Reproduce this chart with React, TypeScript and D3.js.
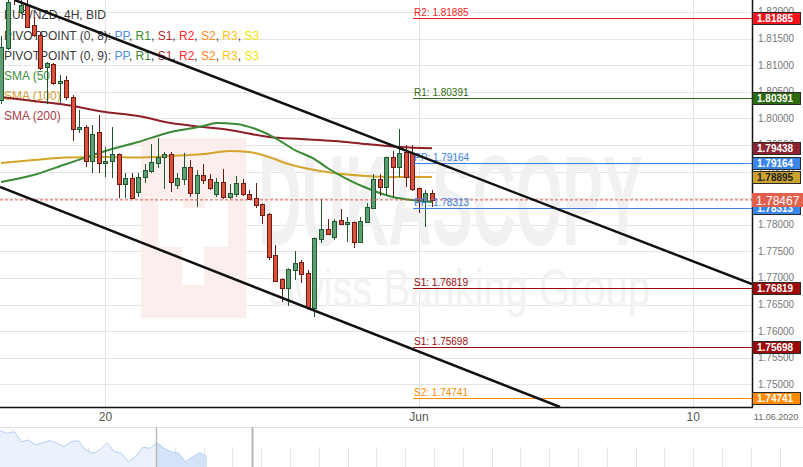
import React from 'react';
import * as d3 from 'd3';

// ---- Candle data (EUR/NZD 4H, BID) ----
const openPrices = [1.80344,1.81322,1.82412,1.81998,1.82130,1.81754,1.81566,1.80965,1.81021,1.80664,1.80720,1.80401,1.79799,1.79836,1.79198,1.79743,1.79160,1.79198,1.79329,1.78765,1.78878,1.78615,1.78897,1.79010,1.79160,1.79273,1.79329,1.78746,1.78859,1.79085,1.78596,1.78935,1.78859,1.78577,1.78803,1.78521,1.78577,1.78784,1.78577,1.78502,1.78389,1.78201,1.77431,1.76980,1.76811,1.77149,1.77299,1.77092,1.76434,1.77731,1.77919,1.77769,1.78088,1.78013,1.78051,1.77675,1.78051,1.78314,1.78859,1.78709,1.79273,1.79085,1.79367,1.79348,1.78690,1.78445,1.78596];
const highPrices = [1.81547,1.82318,1.82450,1.82224,1.82224,1.81904,1.81622,1.81059,1.81040,1.80814,1.80795,1.80438,1.80156,1.79874,1.79874,1.80062,1.79461,1.79836,1.79340,1.78972,1.78972,1.78972,1.79141,1.79517,1.79630,1.79367,1.79367,1.78972,1.79348,1.79216,1.79028,1.79141,1.78953,1.78878,1.79047,1.78765,1.78916,1.78859,1.78652,1.78784,1.78400,1.78220,1.77619,1.76990,1.77180,1.77506,1.77337,1.77149,1.77760,1.78483,1.78107,1.78107,1.78295,1.78145,1.78060,1.78145,1.78408,1.78953,1.78953,1.79280,1.79386,1.79799,1.79498,1.79498,1.78700,1.78652,1.78652];
const lowPrices = [1.80269,1.81284,1.82130,1.81961,1.81698,1.81529,1.80908,1.80269,1.80626,1.80288,1.80344,1.79574,1.79724,1.79085,1.78972,1.78972,1.78897,1.78878,1.78502,1.78502,1.78490,1.78521,1.78784,1.78972,1.79066,1.78671,1.78615,1.78671,1.78746,1.78521,1.78333,1.78765,1.78652,1.78521,1.78483,1.78483,1.78521,1.78540,1.78464,1.78314,1.78013,1.77337,1.76924,1.76547,1.76472,1.76961,1.76905,1.76397,1.76265,1.77656,1.77807,1.77712,1.78005,1.77675,1.77562,1.77656,1.78045,1.78305,1.78540,1.78540,1.78521,1.78897,1.78709,1.78634,1.78220,1.77957,1.78333];
const closePrices = [1.81341,1.82186,1.82280,1.82130,1.81716,1.81566,1.80946,1.81040,1.80664,1.80701,1.80401,1.79799,1.79836,1.79198,1.79705,1.79160,1.79198,1.79329,1.78765,1.78878,1.78502,1.78897,1.79028,1.79179,1.79273,1.79329,1.78803,1.78878,1.79085,1.78596,1.78935,1.78840,1.78690,1.78803,1.78521,1.78596,1.78784,1.78577,1.78483,1.78370,1.78182,1.77393,1.76942,1.76811,1.77168,1.77280,1.77074,1.76453,1.77750,1.77919,1.77825,1.78070,1.78013,1.78051,1.77675,1.78070,1.78333,1.78859,1.78709,1.79273,1.79085,1.79348,1.78897,1.78671,1.78464,1.78596,1.78467];

// ---- Moving averages (sampled at candle indices) ----
const sma50Idx = [0,5,10,16,21,26,31,33,36,39,42,45,48,50,53,56,60,63,66];
const sma50Val = [1.78803,1.78935,1.79141,1.79386,1.79555,1.79743,1.79855,1.79912,1.79893,1.79799,1.79630,1.79404,1.79235,1.79066,1.78859,1.78690,1.78521,1.78464,1.78427];
const sma100Idx = [0,5,10,16,21,26,31,35,38,41,44,48,51,56,61,66];
const sma100Val = [1.79160,1.79216,1.79264,1.79273,1.79264,1.79292,1.79329,1.79386,1.79367,1.79273,1.79141,1.79028,1.78972,1.78916,1.78897,1.78895];
const sma200Idx = [0,5,10,16,21,26,31,35,41,46,51,56,61,66];
const sma200Val = [1.80401,1.80325,1.80250,1.80119,1.80044,1.79912,1.79837,1.79780,1.79649,1.79611,1.79574,1.79517,1.79461,1.79438];

// ---- Channel trend lines ----
const upperTrendIdx = [2.1, 115];
const upperTrendPrice = [1.82224, 1.76886];
const lowerTrendIdx = [-0.15, 85.6];
const lowerTrendPrice = [1.78709, 1.74574];

// ---- Pivot levels ----
const pivotValues = [1.81885, 1.80391, 1.79164, 1.78313, 1.76819, 1.75698, 1.74741];
const pivotNames = ['R2', 'R1', 'PP', 'PP', 'S1', 'S1', 'S2'];
const pivotStartIdx = 63.1;

// ---- Axis ----
const priceTicks = d3.range(1.75, 1.8201, 0.005);
const timeTickIdx = [16, 64, 106];
const timeTickLabels = ['20', 'Jun', '10'];
const endDateLabel = '11.06.2020';
const lastPrice = 1.78467;

// ---- Navigator series ----
const navValues = [1.8223,1.8028,1.8148,1.7398,1.7525,1.7150,1.7323,1.7473,1.7278,1.7023,1.7398,1.7473,1.6775,1.6528,1.6775,1.7323,1.6648,1.6528,1.5898,1.6273,1.6978,1.6903,1.7323,1.6903,1.6648,1.6528,1.5898,1.6273,1.6573,1.6273];

const FONT = '"Liberation Sans", Arial, Helvetica, sans-serif';

const pivotColor: Record<string, string> = {
  PP: '#3b82e6', R1: '#2e6b12', S1: '#990a0a', R2: '#f21b1b', S2: '#ff8a00',
};

export default function App() {
  const PW = 752, PH = 407;
  const x = d3.scaleLinear().domain([-0.15, 115]).range([0, PW]);
  const y = d3.scaleLinear().domain([1.82224, 1.74574]).range([0, PH]);

  const smaLine = (idx: number[], val: number[]) =>
    d3.line<number>().x((_, k) => x(idx[k])).y((v) => y(v)).curve(d3.curveMonotoneX)(val) || '';

  const navX = d3.scaleLinear().domain([0, navValues.length - 1]).range([0, 207]);
  const navY = d3.scaleLinear().domain([1.85, 1.55]).range([427, 467]);
  const navArea = d3.area<number>().x((_, k) => navX(k)).y0(467).y1((v) => navY(v))(navValues) || '';
  const navLine = d3.line<number>().x((_, k) => navX(k)).y((v) => navY(v))(navValues) || '';
  const navGrid = d3.range(30.7, 803, 28.8);

  const boxes = [
    { v: pivotValues[0], fill: '#f5141e', text: '#fff' },
    { v: pivotValues[1], fill: '#2d6a0f', text: '#fff' },
    { v: sma200Val[sma200Val.length - 1], fill: '#8c2330', text: '#fff' },
    { v: pivotValues[2], fill: '#3b86ea', text: '#fff' },
    { v: sma100Val[sma100Val.length - 1], fill: '#c9a230', text: '#222' },
    { v: pivotValues[3], fill: '#3b86ea', text: '#fff' },
    { v: pivotValues[4], fill: '#9b0a0a', text: '#fff' },
    { v: pivotValues[5], fill: '#9b0a0a', text: '#fff' },
    { v: pivotValues[6], fill: '#ff8a00', text: '#fff' },
  ];

  const legendItems = ['PP', 'R1', 'S1', 'R2', 'S2', 'R3', 'S3'];
  const legendColors: Record<string, string> = {
    PP: '#4a8fe6', R1: '#3d8a2e', S1: '#b52a2e', R2: '#ff2a2a', S2: '#ff8a1e', R3: '#ffc21a', S3: '#f2e600',
  };

  return (
    <svg width={803} height={467} style={{ position: 'absolute', left: 0, top: 0, background: '#fff' }}
      fontFamily={FONT}>
      <defs>
        <clipPath id="plot"><rect x={0} y={0} width={PW} height={PH} /></clipPath>
        <clipPath id="navsel"><rect x={156} y={427} width={96} height={40} /></clipPath>
      </defs>

      {/* grid */}
      {priceTicks.map((t) => (
        <line key={'g' + t} x1={0} x2={PW} y1={Math.round(y(t)) + 0.5} y2={Math.round(y(t)) + 0.5} stroke="#e4e4e4" />
      ))}
      {timeTickIdx.map((t) => (
        <line key={'v' + t} x1={Math.round(x(t)) + 0.5} x2={Math.round(x(t)) + 0.5} y1={0} y2={PH} stroke="#e4e4e4" />
      ))}

      {/* watermark */}
      <g>
        <rect x={141} y={138} width={105} height={180} fill="#fdeeee" />
        <rect x={158} y={198} width={70} height={49} fill="#fff" />
        <rect x={183} y={198} width={22} height={10} fill="#fdeeee" />
        <rect x={182} y={247} width={22} height={38} fill="#fff" />
        <text x={258} y={245} fontSize={128} fontWeight="bold" fill="#f1f1f1" textLength={385} lengthAdjust="spacingAndGlyphs">DUKASCOPY</text>
        <text x={268} y={306} fontSize={52} fill="#f2f2f2" textLength={382} lengthAdjust="spacingAndGlyphs">Swiss Banking Group</text>
      </g>

      {/* legend */}
      <g fontSize={12} fill="#3a3a3a">
        <text x={4} y={19}>EUR/NZD, 4H, BID</text>
        {['(0, 8)', '(0, 9)'].map((p, r) => (
          <text key={p} x={4} y={40 + r * 19.5}>
            {'PIVOTPOINT ' + p + ': '}
            {legendItems.map((it, k) => (
              <tspan key={it} fill={legendColors[it]}>{it}<tspan fill="#3a3a3a">{k < legendItems.length - 1 ? ', ' : ''}</tspan></tspan>
            ))}
          </text>
        ))}
        <text x={4} y={80} fill="#3f8f3f">SMA (50)</text>
        <text x={4} y={100} fill="#d0a030">SMA (100)</text>
        <text x={4} y={120} fill="#a8404c">SMA (200)</text>
      </g>

      <g clipPath="url(#plot)">
        {/* SMAs */}
        <path d={smaLine(sma200Idx, sma200Val)} fill="none" stroke="#8e1f27" strokeWidth={2} />
        <path d={smaLine(sma100Idx, sma100Val)} fill="none" stroke="#d4a52a" strokeWidth={2} />
        <path d={smaLine(sma50Idx, sma50Val)} fill="none" stroke="#3a8a35" strokeWidth={2} />

        {/* candles */}
        {openPrices.map((o, i) => {
          const c = closePrices[i];
          const up = c >= o;
          const cx = Math.round(x(i));
          const top = Math.round(y(Math.max(o, c)));
          const bot = Math.round(y(Math.min(o, c)));
          const wick = up ? '#1f5a2e' : '#6b1b12';
          return (
            <g key={i}>
              <line x1={cx + 0.5} x2={cx + 0.5} y1={y(highPrices[i])} y2={y(lowPrices[i])} stroke={wick} strokeWidth={1} />
              <rect x={cx - 2 + 0.5} y={top + 0.5} width={4} height={Math.max(1, bot - top)}
                fill={up ? '#5e9e74' : '#d9503c'} stroke={wick} strokeWidth={1} />
            </g>
          );
        })}

        {/* last price dashed */}
        <line x1={0} x2={PW} y1={y(lastPrice)} y2={y(lastPrice)} stroke="#e4533f" strokeDasharray="3,2" />

        {/* pivot lines */}
        {pivotValues.map((v, k) => (
          <g key={'p' + k}>
            <line x1={x(pivotStartIdx)} x2={PW} y1={Math.round(y(v)) + 0.5} y2={Math.round(y(v)) + 0.5}
              stroke={pivotColor[pivotNames[k]]} strokeWidth={1} />
            <text x={x(pivotStartIdx) + 1} y={Math.round(y(v)) - 2} fontSize={10} fill={pivotColor[pivotNames[k]]}>
              {pivotNames[k] + ': ' + v.toFixed(5)}
            </text>
          </g>
        ))}

        {/* trend lines */}
        <line x1={x(upperTrendIdx[0])} y1={y(upperTrendPrice[0])} x2={x(upperTrendIdx[1])} y2={y(upperTrendPrice[1])}
          stroke="#111" strokeWidth={2.5} />
        <line x1={x(lowerTrendIdx[0])} y1={y(lowerTrendPrice[0])} x2={x(lowerTrendIdx[1])} y2={y(lowerTrendPrice[1])}
          stroke="#111" strokeWidth={2.5} />
      </g>

      {/* axes */}
      <line x1={PW + 0.5} x2={PW + 0.5} y1={0} y2={PH} stroke="#111" strokeWidth={1.5} />
      <line x1={0} x2={PW + 1} y1={PH + 0.5} y2={PH + 0.5} stroke="#111" strokeWidth={1.5} />
      {priceTicks.map((t) => (
        <text key={'t' + t} x={758} y={y(t) + 3.5} fontSize={10} fill="#777">{t.toFixed(5)}</text>
      ))}
      {timeTickIdx.map((t, k) => (
        <text key={'tl' + t} x={x(t)} y={421} fontSize={12} fill="#555" textAnchor="middle">{timeTickLabels[k]}</text>
      ))}
      <text x={776} y={420} fontSize={9} fill="#666" textAnchor="middle">{endDateLabel}</text>

      {/* value boxes */}
      {boxes.map((b, k) => (
        <g key={'b' + k}>
          <rect x={752.5} y={Math.round(y(b.v)) - 5.5} width={48} height={12} fill={b.fill} stroke="#2a2a2a" strokeWidth={1} />
          <text x={757} y={Math.round(y(b.v)) + 4} fontSize={10} fontWeight="bold" fill={b.text}>{b.v.toFixed(5)}</text>
        </g>
      ))}
      <rect x={752} y={Math.round(y(lastPrice)) - 7} width={51} height={14} fill="#e1604d" />
      <text x={756} y={Math.round(y(lastPrice)) + 4.5} fontSize={12} fill="#fff">{lastPrice.toFixed(5)}</text>

      {/* navigator */}
      <line x1={0} x2={803} y1={427.5} y2={427.5} stroke="#e2e2e2" />
      {navGrid.map((g) => (
        <line key={'n' + g} x1={Math.round(g) + 0.5} x2={Math.round(g) + 0.5} y1={447} y2={467} stroke="#e6e6e6" />
      ))}
      <path d={navArea} fill="#ebf2fd" />
      <path d={navArea} fill="#d5e3f9" clipPath="url(#navsel)" />
      <path d={navLine} fill="none" stroke="#b4cdf3" strokeWidth={1} />
      <line x1={156.5} x2={156.5} y1={427} y2={467} stroke="#b8b8b8" strokeWidth={1.5} />
      <line x1={252.5} x2={252.5} y1={427} y2={467} stroke="#b8b8b8" strokeWidth={2} />
    </svg>
  );
}
